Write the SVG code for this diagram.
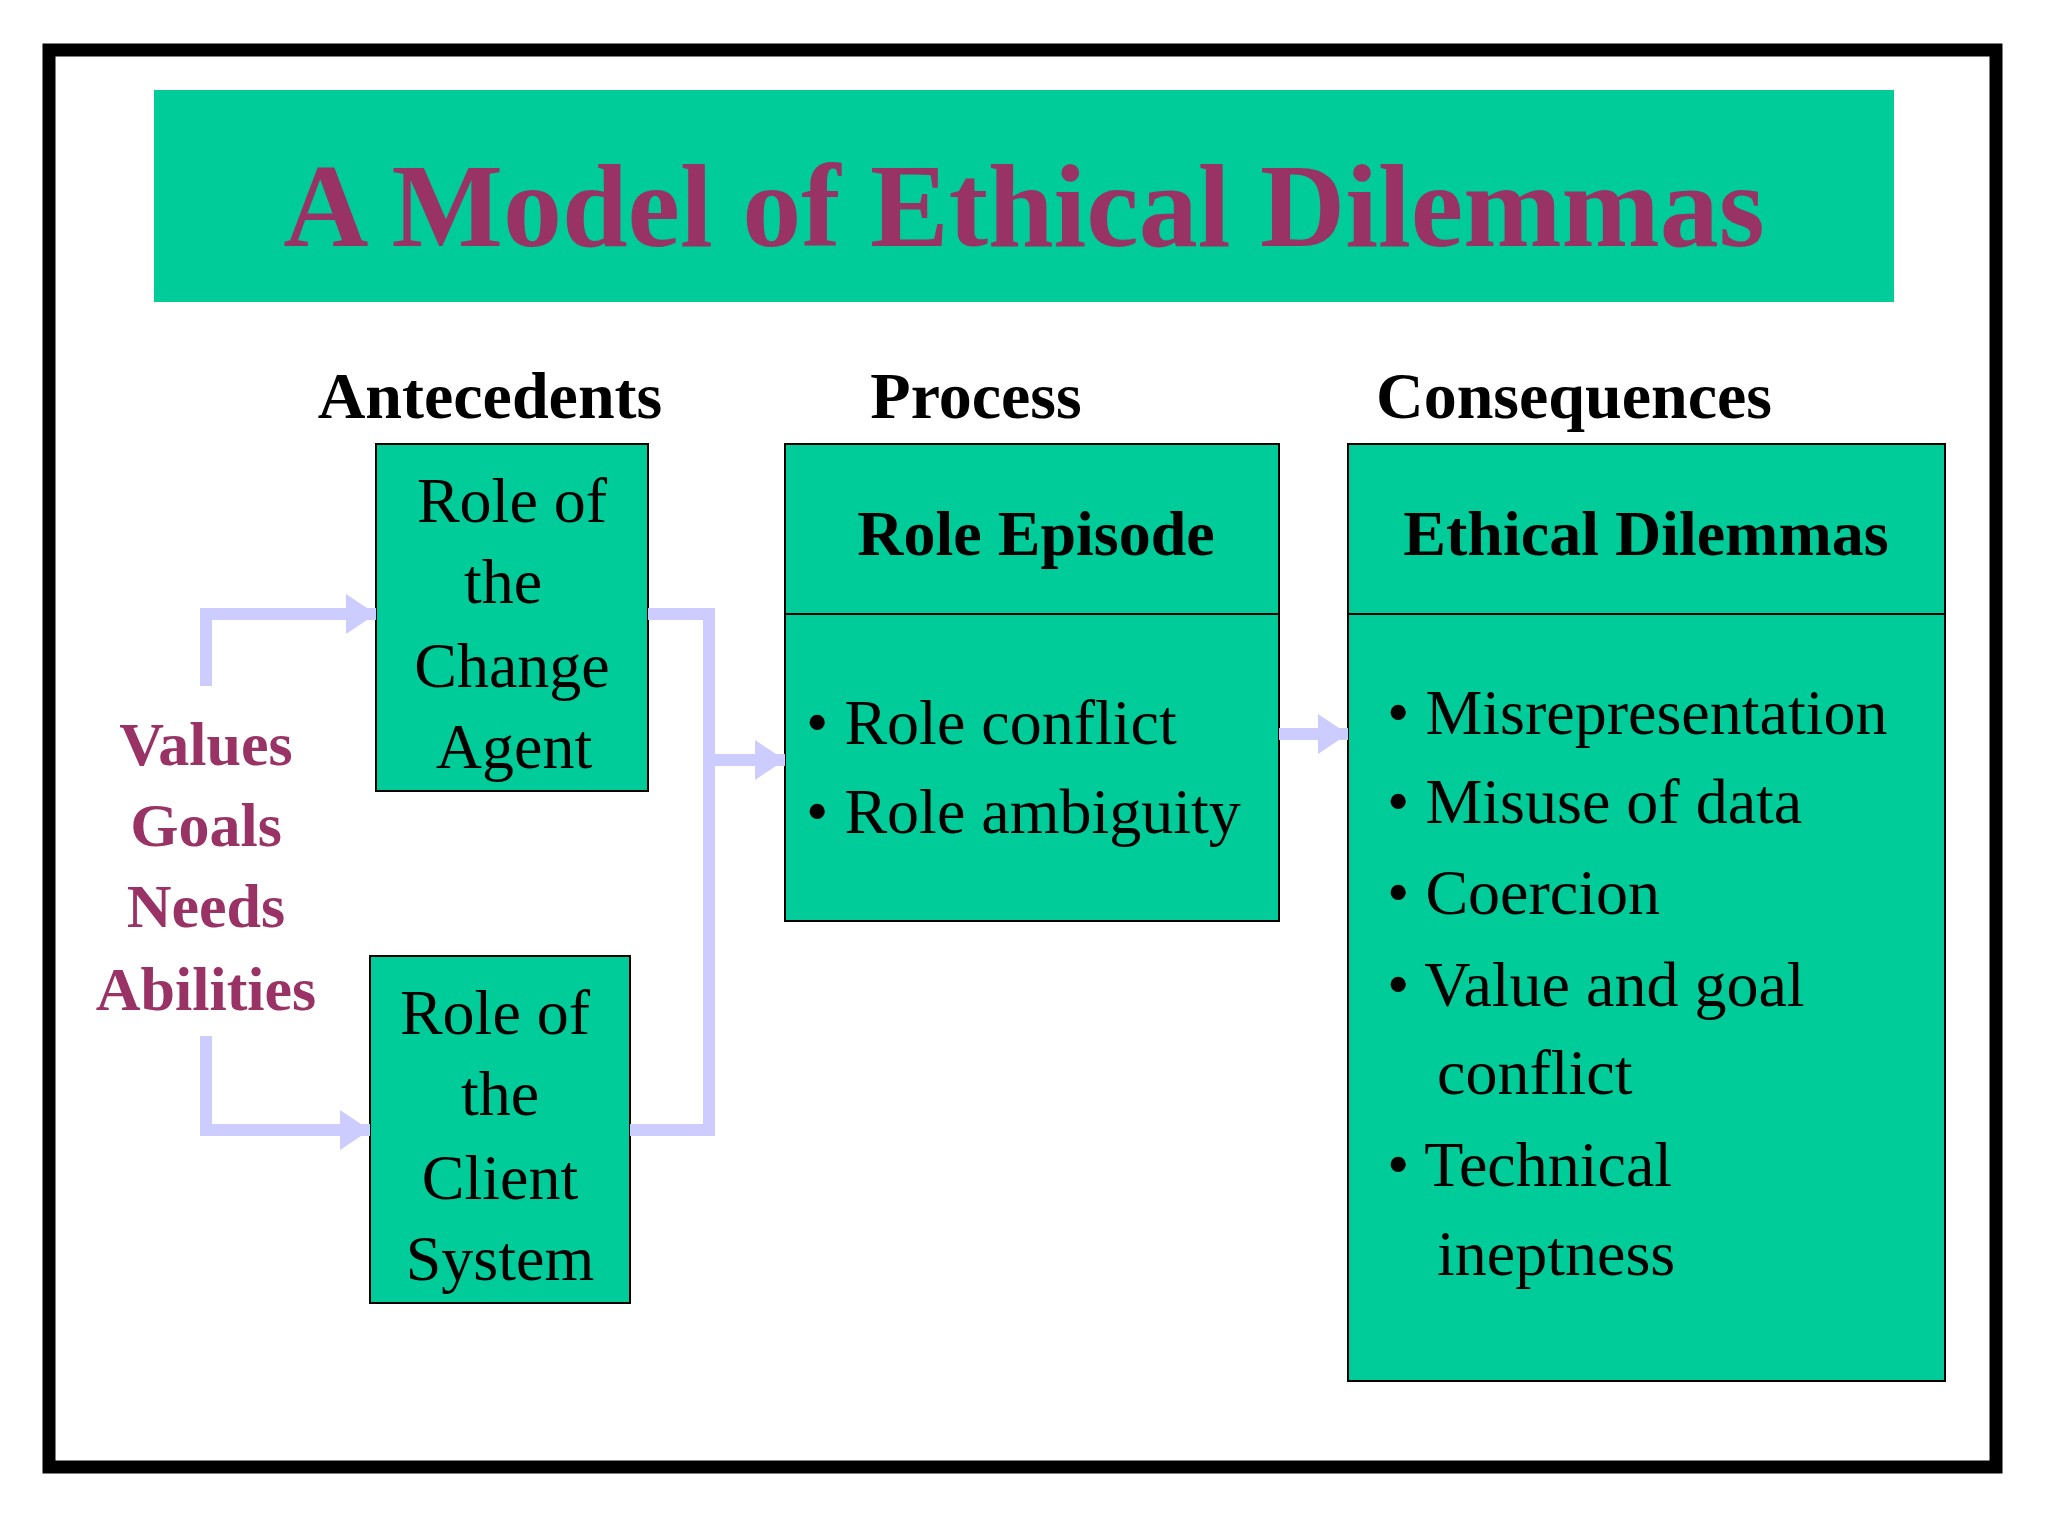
<svg xmlns="http://www.w3.org/2000/svg" width="2048" height="1536" viewBox="0 0 2048 1536">
<defs>
<style>
.box{fill:#00cc99;stroke:#000;stroke-width:2}
.t{font-family:"Liberation Serif",serif;fill:#000;font-size:64px}
.b{font-weight:bold}
.m{fill:#993366;font-weight:bold;font-size:62px}
.c{fill:none;stroke:#ccccff;stroke-width:12}
</style>
<marker id="ah" markerUnits="userSpaceOnUse" markerWidth="30" markerHeight="40" refX="30" refY="20" orient="auto"><path d="M0,0 L30,20 L0,40 Z" fill="#ccccff"/></marker>
</defs>
<rect width="2048" height="1536" fill="#fff"/>
<rect x="49" y="50" width="1947" height="1417" fill="none" stroke="#000" stroke-width="13"/>
<g id="title"><rect x="154" y="90" width="1740" height="212" fill="#00cc99"/>
<text x="1024" y="246" text-anchor="middle" class="t b" style="font-size:118px;fill:#993366">A Model of Ethical Dilemmas</text></g>
<g id="headers" class="t b" text-anchor="middle" style="font-size:66px">
<text x="490" y="418" class="t b" style="font-size:66px">Antecedents</text>
<text x="976" y="418" class="t b" style="font-size:66px">Process</text>
<text x="1574" y="418" class="t b" style="font-size:66px">Consequences</text></g>
<g id="factors" text-anchor="middle">
<text x="206" y="765" class="t m">Values</text>
<text x="206" y="846" class="t m">Goals</text>
<text x="206" y="927" class="t m">Needs</text>
<text x="206" y="1010" class="t m">Abilities</text></g>
<g id="changeAgent"><rect x="376" y="444" width="272" height="347" class="box"/>
<g text-anchor="middle"><text x="512" y="522" class="t">Role of</text><text x="503" y="603" class="t">the</text><text x="512" y="687" class="t">Change</text><text x="514" y="768" class="t">Agent</text></g></g>
<g id="clientSystem"><rect x="370" y="956" width="260" height="347" class="box"/>
<g text-anchor="middle"><text x="495" y="1034" class="t">Role of</text><text x="500" y="1115" class="t">the</text><text x="500" y="1199" class="t">Client</text><text x="500" y="1280" class="t">System</text></g></g>
<g id="process"><rect x="785" y="444" width="494" height="477" class="box"/><line x1="785" y1="614" x2="1279" y2="614" stroke="#000" stroke-width="2"/>
<text x="1036" y="555" text-anchor="middle" class="t b">Role Episode</text>
<text x="806" y="744" class="t">• Role conflict</text><text x="806" y="833" class="t">• Role ambiguity</text></g>
<g id="consequences"><rect x="1348" y="444" width="597" height="937" class="box"/><line x1="1348" y1="614" x2="1945" y2="614" stroke="#000" stroke-width="2"/>
<text x="1646" y="555" text-anchor="middle" class="t b">Ethical Dilemmas</text>
<text x="1387" y="734" class="t">• Misrepresentation</text>
<text x="1387" y="823" class="t">• Misuse of data</text>
<text x="1387" y="914" class="t">• Coercion</text>
<text x="1387" y="1006" class="t">• Value and goal</text>
<text x="1437" y="1094" class="t">conflict</text>
<text x="1387" y="1186" class="t">• Technical</text>
<text x="1437" y="1275" class="t">ineptness</text></g>
<g id="connectors">
<path class="c" d="M206,686 V614 H376" marker-end="url(#ah)"/>
<path class="c" d="M206,1036 V1130 H370" marker-end="url(#ah)"/>
<path class="c" d="M648,614 H709 V1130 H630"/>
<path class="c" d="M709,760 H785" marker-end="url(#ah)"/>
<path class="c" d="M1279,734 H1348" marker-end="url(#ah)"/>
</g>
</svg>
